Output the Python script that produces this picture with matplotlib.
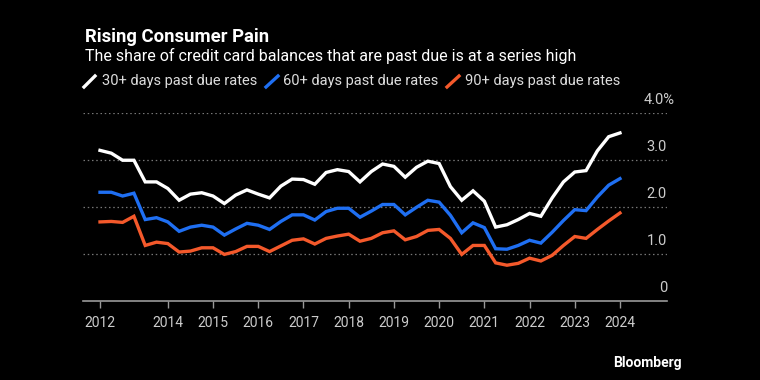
import matplotlib
matplotlib.use("Agg")
import matplotlib.pyplot as plt
from matplotlib.lines import Line2D
import pandas as pd

# quarterly data, 2012 Q3 to 2024 Q1
quarters = pd.period_range("2012Q3", "2024Q1", freq="Q")

rate_30 = [3.20, 3.14, 2.99, 2.99, 2.53, 2.53, 2.39, 2.14, 2.27, 2.30, 2.23, 2.07,
           2.25, 2.36, 2.27, 2.19, 2.44, 2.59, 2.58, 2.48, 2.73, 2.79, 2.75, 2.53,
           2.75, 2.91, 2.86, 2.63, 2.84, 2.97, 2.92, 2.43, 2.14, 2.34, 2.12, 1.57,
           1.62, 1.73, 1.86, 1.80, 2.19, 2.53, 2.74, 2.77, 3.19, 3.49, 3.57]
rate_60 = [2.31, 2.31, 2.23, 2.29, 1.73, 1.77, 1.68, 1.48, 1.57, 1.61, 1.57, 1.40,
           1.53, 1.65, 1.61, 1.52, 1.69, 1.83, 1.83, 1.72, 1.90, 1.97, 1.97, 1.78,
           1.91, 2.05, 2.05, 1.83, 1.99, 2.14, 2.10, 1.82, 1.45, 1.66, 1.56, 1.11,
           1.10, 1.18, 1.29, 1.23, 1.46, 1.71, 1.94, 1.92, 2.21, 2.46, 2.60]
rate_90 = [1.68, 1.69, 1.67, 1.80, 1.18, 1.25, 1.22, 1.04, 1.06, 1.13, 1.13, 0.99,
           1.05, 1.16, 1.16, 1.05, 1.17, 1.29, 1.32, 1.21, 1.33, 1.38, 1.42, 1.27,
           1.33, 1.45, 1.49, 1.30, 1.37, 1.50, 1.52, 1.33, 0.99, 1.18, 1.18, 0.81,
           0.76, 0.80, 0.91, 0.85, 0.97, 1.18, 1.37, 1.33, 1.52, 1.70, 1.87]

series_names = ["30+ days past due rates", "60+ days past due rates", "90+ days past due rates"]
colors = ["#ffffff", "#1f6ff2", "#f4592b"]

year_ticks = [2012, 2014, 2015, 2016, 2017, 2018, 2019, 2020, 2021, 2022, 2023, 2024]
y_ticks = [0, 1, 2, 3, 4]
y_labels = ["0", "1.0", "2.0", "3.0", "4.0%"]

plt.rcParams["font.family"] = ["Roboto", "DejaVu Sans"]

x = [q.year + (q.quarter - 1) / 4 for q in quarters]
# first label sits on the first data point
tick_pos = [x[0]] + year_ticks[1:]

fig = plt.figure(figsize=(7.6, 3.8), dpi=100, facecolor="black")
ax = fig.add_axes([83 / 760, 1 - 301 / 380, 584 / 760, 188.3 / 380])
ax.set_facecolor("black")

for vals, c in zip([rate_30, rate_60, rate_90], colors):
    ax.plot(x, vals, color=c, lw=2.4, solid_joinstyle="miter", zorder=3)

ax.set_xlim(2012.124, 2025.04)
ax.set_ylim(0, 4)

for v in y_ticks[1:]:
    ax.axhline(v, color="#777777", lw=0.9, ls=(0, (1.2, 2.2)), zorder=1)

for v, lab in zip(y_ticks, y_labels):
    # the % sign hangs past the right edge
    dx = 5.8 if lab.endswith("%") else 0
    ax.annotate(lab, xy=(1, v), xycoords=("axes fraction", "data"),
                xytext=(dx, 9.5), textcoords="offset points", ha="right", va="center",
                color="#cccccc", fontsize=10.5)

ax.set_xticks(tick_pos)
ax.set_xticklabels([str(y) for y in year_ticks], color="#cccccc", fontsize=10)
ax.tick_params(axis="x", length=5, width=1, color="#999999", pad=6)
ax.set_yticks([])
for s in ["top", "right", "left"]:
    ax.spines[s].set_visible(False)
ax.spines["bottom"].set_color("#999999")
ax.spines["bottom"].set_linewidth(1.2)

# titles
fig.text(85 / 760, 1 - 37 / 380, "Rising Consumer Pain", color="white",
         fontsize=13.3, fontweight="bold", va="center", ha="left")
fig.text(85 / 760, 1 - 56 / 380, "The share of credit card balances that are past due is at a series high",
         color="white", fontsize=11.5, va="center", ha="left")

# legend with slash markers
legend_slash = [(84, 95), (266, 278), (447, 459)]
legend_text = [102, 283, 465]
for (x0, x1), tx, name, c in zip(legend_slash, legend_text, series_names, colors):
    fig.add_artist(Line2D([x0 / 760, x1 / 760], [1 - 87 / 380, 1 - 76 / 380],
                          color=c, lw=2.4, transform=fig.transFigure))
    fig.text(tx / 760, 1 - 81 / 380, name, color="#dddddd", fontsize=10.5,
             va="center", ha="left")

fig.text(682 / 760, 1 - 363 / 380, "Bloomberg", color="white", fontsize=10,
         fontweight="bold", va="center", ha="right")

fig.savefig("out.png", dpi=100, facecolor="black")
